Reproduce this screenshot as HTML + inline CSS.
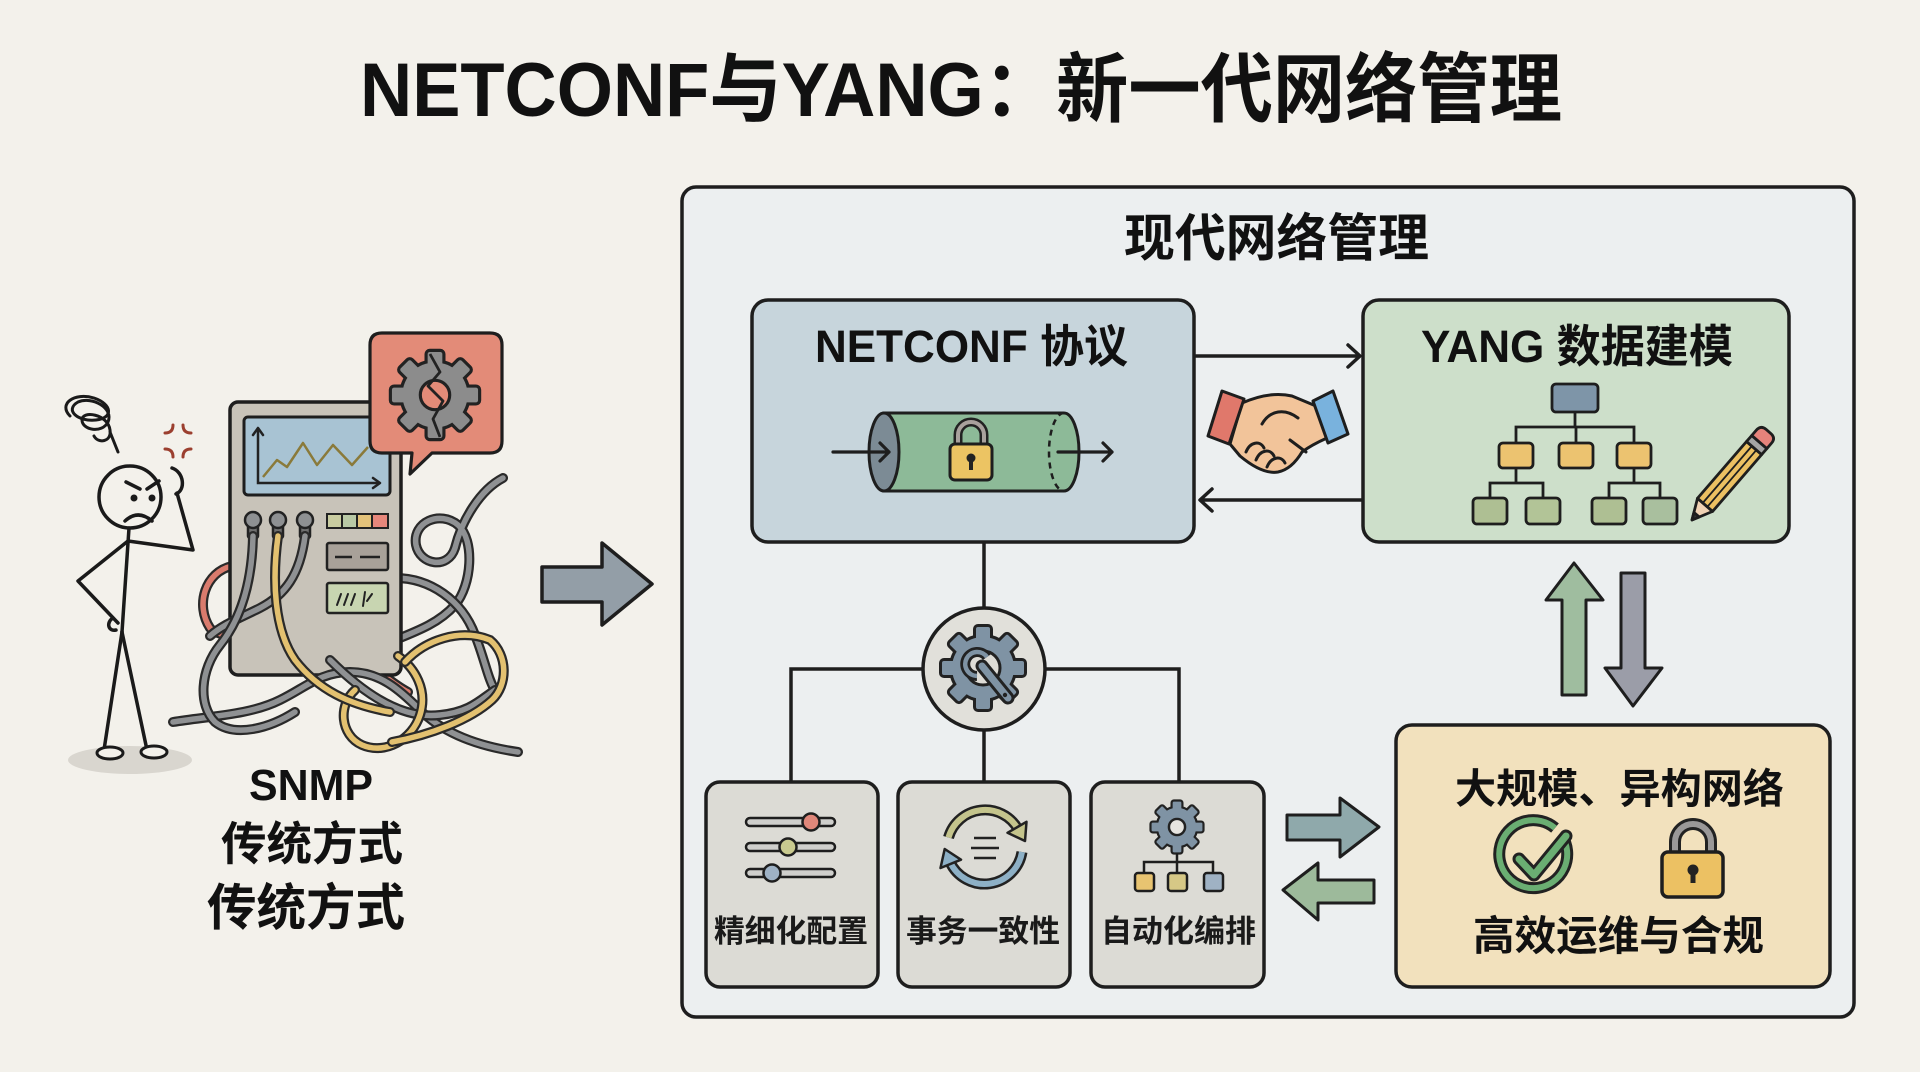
<!DOCTYPE html>
<html><head><meta charset="utf-8"><style>html,body{margin:0;padding:0;background:#f3f1eb;}svg{display:block}</style></head>
<body>
<svg width="1920" height="1072" viewBox="0 0 1920 1072" xmlns="http://www.w3.org/2000/svg" font-family="'Liberation Sans','Noto Sans CJK SC',sans-serif">
<defs>
<g id="gb">
<circle r="31"/>
<rect x="-7" y="-41" width="14" height="16" rx="2"/>
<rect x="-7" y="-41" width="14" height="16" rx="2" transform="rotate(45)"/>
<rect x="-7" y="-41" width="14" height="16" rx="2" transform="rotate(90)"/>
<rect x="-7" y="-41" width="14" height="16" rx="2" transform="rotate(135)"/>
<rect x="-7" y="-41" width="14" height="16" rx="2" transform="rotate(180)"/>
<rect x="-7" y="-41" width="14" height="16" rx="2" transform="rotate(225)"/>
<rect x="-7" y="-41" width="14" height="16" rx="2" transform="rotate(270)"/>
<rect x="-7" y="-41" width="14" height="16" rx="2" transform="rotate(315)"/>
</g>
<path id="c1" d="M503,478 C480,490 462,520 455,548 C448,570 420,565 416,545 C412,522 440,510 458,525 C475,540 472,585 455,605 C440,622 420,630 395,640"/>
<path id="c2" d="M395,578 C430,578 462,600 475,635 C485,660 488,680 496,692"/>
<path id="c3" d="M232,566 C205,572 195,605 210,628 C225,645 290,630 340,648 C370,660 385,680 408,692"/>
<path id="c4" d="M278,536 C272,580 274,630 295,660 C318,690 350,705 390,712"/>
<path id="c5" d="M253,536 C252,585 240,620 220,645 C200,670 198,705 215,722 C235,738 270,728 295,712"/>
<path id="c6" d="M305,536 C300,575 285,595 260,608 C240,618 222,625 210,636"/>
<path id="c7" d="M173,722 C210,716 250,715 280,700 C305,688 320,672 350,672 C380,672 400,690 420,710 C440,730 470,745 518,752"/>
<path id="c8" d="M405,662 C425,640 460,628 490,640 C508,655 508,685 492,700 C470,720 430,735 392,742"/>
<path id="c9" d="M355,690 C338,705 340,735 362,745 C385,755 412,740 420,715 C428,690 415,668 398,656"/>
<path id="c10" d="M330,660 C360,690 400,720 440,715 C470,712 480,700 495,690"/>
</defs>

<rect width="1920" height="1072" fill="#f3f1eb"/>

<!-- Title -->
<text x="360" y="116" font-size="76" font-weight="700" textLength="1202" lengthAdjust="spacingAndGlyphs" fill="#111">NETCONF与YANG：新一代网络管理</text>

<!-- ============ LEFT ILLUSTRATION ============ -->
<ellipse cx="130" cy="760" rx="62" ry="14" fill="#d9d6cf"/>

<g fill="none" stroke-linecap="round">
<use href="#c1" stroke="#2a2a2a" stroke-width="10"/><use href="#c1" stroke="#8f9193" stroke-width="5.5"/>
<use href="#c2" stroke="#2a2a2a" stroke-width="10"/><use href="#c2" stroke="#8f9193" stroke-width="5.5"/>
<use href="#c3" stroke="#2a2a2a" stroke-width="10"/><use href="#c3" stroke="#d97b6d" stroke-width="5.5"/>
</g>

<rect x="230" y="402" width="171" height="273" rx="8" fill="#c8c3b9" stroke="#1e1e1e" stroke-width="3.5"/>
<rect x="244" y="417" width="146" height="78" rx="4" fill="#a8c3d3" stroke="#1e1e1e" stroke-width="3"/>
<path d="M258,429 V483 H380" fill="none" stroke="#222" stroke-width="2.5"/>
<path d="M253,435 L258,428 L263,435 M373,478 L380,483 L373,488" fill="none" stroke="#222" stroke-width="2.5" stroke-linecap="round" stroke-linejoin="round"/>
<polyline points="263,477 277,460 287,467 303,443 317,465 333,445 352,465 368,447" fill="none" stroke="#8a7a3a" stroke-width="2.5" stroke-linejoin="round"/>
<g stroke="#222" stroke-width="2">
<rect x="327" y="514" width="15" height="14" fill="#c9cca0"/>
<rect x="342" y="514" width="15" height="14" fill="#b9c9a5"/>
<rect x="357" y="514" width="15" height="14" fill="#e3c27a"/>
<rect x="372" y="514" width="16" height="14" fill="#e7877b"/>
</g>
<rect x="327" y="543" width="61" height="27" rx="2" fill="#a8a199" stroke="#222" stroke-width="2.5"/>
<path d="M335,557 H352 M360,557 H380" stroke="#222" stroke-width="2.5"/>
<rect x="327" y="583" width="61" height="30" rx="2" fill="#c8d5b1" stroke="#222" stroke-width="2.5"/>
<path d="M337,605 L341,594 M344,605 L348,594 M351,605 L355,594 M363,606 L365,592 M367,601 L372,594" stroke="#222" stroke-width="2" stroke-linecap="round"/>

<g stroke="#222" stroke-width="2.5">
<rect x="248" y="524" width="10" height="14" rx="2" fill="#6f6f6f"/>
<rect x="273" y="524" width="10" height="14" rx="2" fill="#6f6f6f"/>
<rect x="300" y="524" width="10" height="14" rx="2" fill="#6f6f6f"/>
<circle cx="253" cy="520" r="8" fill="#8e9092"/>
<circle cx="278" cy="520" r="8" fill="#8e9092"/>
<circle cx="305" cy="520" r="8" fill="#8e9092"/>
</g>

<g fill="none" stroke-linecap="round">
<use href="#c7" stroke="#2a2a2a" stroke-width="10"/><use href="#c7" stroke="#8f9193" stroke-width="5.5"/>
<use href="#c10" stroke="#2a2a2a" stroke-width="10"/><use href="#c10" stroke="#8f9193" stroke-width="5.5"/>
<use href="#c9" stroke="#2a2a2a" stroke-width="10"/><use href="#c9" stroke="#e3c170" stroke-width="5.5"/>
<use href="#c8" stroke="#2a2a2a" stroke-width="10"/><use href="#c8" stroke="#e3c170" stroke-width="5.5"/>
<use href="#c6" stroke="#2a2a2a" stroke-width="10"/><use href="#c6" stroke="#8f9193" stroke-width="5.5"/>
<use href="#c5" stroke="#2a2a2a" stroke-width="10"/><use href="#c5" stroke="#8f9193" stroke-width="5.5"/>
<use href="#c4" stroke="#2a2a2a" stroke-width="10"/><use href="#c4" stroke="#e3c170" stroke-width="5.5"/>
</g>

<path d="M382,333 H490 Q502,333 502,345 V441 Q502,453 490,453 H432 L410,474 L412,453 H382 Q370,453 370,441 V345 Q370,333 382,333 Z" fill="#e38b78" stroke="#1e1e1e" stroke-width="3.2" stroke-linejoin="round"/>
<g transform="translate(435,395) scale(1.05)">
<use href="#gb" fill="#222" stroke="#222" stroke-width="6" stroke-linejoin="round"/>
<use href="#gb" fill="#8c8c8c"/>
<circle r="14" fill="#e38b78" stroke="#222" stroke-width="3"/>
</g>
<path d="M430,354 L440,372 L428,386 L443,401 L433,419 L440,437" fill="none" stroke="#222" stroke-width="2.8" stroke-linejoin="round"/>

<!-- person -->
<g fill="none" stroke="#1a1a1a" stroke-width="3.5" stroke-linecap="round" stroke-linejoin="round">
<circle cx="130" cy="497" r="31" fill="#f3f1eb"/>
<path d="M126,482 L140,489 M147,489 L159,481"/>
<path d="M125,521 Q138,509 152,521"/>
<path d="M172,468 C184,472 186,490 176,494"/>
<path d="M177,493 L193,550 L128,541"/>
<path d="M129,528 L122,632"/>
<path d="M128,541 L78,581 L118,623"/>
<path d="M113,618 C106,622 108,632 116,630"/>
<path d="M122,632 L104,750"/>
<path d="M122,632 L147,750"/>
</g>
<circle cx="134" cy="498" r="3.5" fill="#1a1a1a"/>
<circle cx="152" cy="498" r="3.5" fill="#1a1a1a"/>
<g fill="none" stroke="#1a1a1a" stroke-width="3" stroke-linecap="round">
<path d="M70,416 C58,404 74,392 94,398 C112,404 114,418 96,420 C78,422 64,410 78,402 C92,396 114,408 108,422 C102,434 82,430 82,420 C82,410 108,414 110,430 C112,442 98,444 94,436 M110,432 L118,452"/>
</g>
<g fill="none" stroke="#9b3f2f" stroke-width="3" stroke-linecap="round">
<path d="M165,433 Q173,433 173,425 M183,425 Q183,433 191,433 M165,449 Q173,449 173,457 M183,457 Q183,449 191,449"/>
</g>
<ellipse cx="110" cy="753" rx="13" ry="6" fill="#f3f1eb" stroke="#1a1a1a" stroke-width="3"/>
<ellipse cx="154" cy="752" rx="13" ry="6" fill="#f3f1eb" stroke="#1a1a1a" stroke-width="3"/>

<!-- left labels -->
<text x="249" y="800" font-size="44" font-weight="700" textLength="124" lengthAdjust="spacingAndGlyphs" fill="#111">SNMP</text>
<text x="221" y="860" font-size="46" font-weight="700" textLength="182" lengthAdjust="spacingAndGlyphs" fill="#111">传统方式</text>
<text x="207" y="925" font-size="50" font-weight="700" textLength="198" lengthAdjust="spacingAndGlyphs" fill="#111">传统方式</text>

<polygon points="542,567 602,567 602,543 652,584 602,625 602,602 542,602" fill="#939ea7" stroke="#1e1e1e" stroke-width="3.5" stroke-linejoin="round"/>

<!-- ============ CONTAINER ============ -->
<rect x="682" y="187" width="1172" height="830" rx="14" fill="#eceff0" stroke="#1e1e1e" stroke-width="3.5"/>
<text x="1124" y="256" font-size="51" font-weight="700" textLength="305" lengthAdjust="spacingAndGlyphs" fill="#111">现代网络管理</text>

<!-- NETCONF box -->
<rect x="752" y="300" width="442" height="242" rx="16" fill="#c7d5dc" stroke="#1e1e1e" stroke-width="3.5"/>
<text x="815" y="362" font-size="45" font-weight="700" textLength="313" lengthAdjust="spacingAndGlyphs" fill="#111">NETCONF 协议</text>
<path d="M884,413 L1064,413 A15,39 0 0 1 1064,491 L884,491 Z" fill="#8dba98" stroke="#1e1e1e" stroke-width="3"/>
<path d="M1064,413 A15,39 0 0 0 1064,491" fill="none" stroke="#1e1e1e" stroke-width="2.5" stroke-dasharray="6,5"/>
<ellipse cx="884" cy="452" rx="15" ry="39" fill="#7c8b95" stroke="#1e1e1e" stroke-width="3"/>
<g fill="none" stroke="#1e1e1e" stroke-width="3.2" stroke-linecap="round" stroke-linejoin="round">
<path d="M833,452 H889 M880,443 L889,452 L880,461"/>
<path d="M1058,452 H1112 M1103,443 L1112,452 L1103,461"/>
</g>
<path d="M958,446 V435 A13,13 0 0 1 984,435 V446" fill="none" stroke="#222" stroke-width="9"/>
<path d="M958,446 V435 A13,13 0 0 1 984,435 V446" fill="none" stroke="#a9a19d" stroke-width="4"/>
<rect x="950" y="444" width="42" height="36" rx="5" fill="#ecc463" stroke="#1e1e1e" stroke-width="3"/>
<circle cx="971" cy="458" r="4.5" fill="#222"/><rect x="969" y="459" width="4" height="11" fill="#222"/>

<g fill="none" stroke="#1e1e1e" stroke-width="3.5" stroke-linecap="round" stroke-linejoin="round">
<path d="M1196,356 H1359 M1348,345 L1360,356 L1348,367"/>
<path d="M1363,500 H1201 M1212,489 L1200,500 L1212,511"/>
</g>

<!-- handshake -->
<g stroke="#1e1e1e" stroke-width="3" stroke-linejoin="round" stroke-linecap="round">
<path d="M1242,403 C1258,396 1275,392 1292,396 L1316,406 L1327,438 C1318,442 1310,446 1302,452 C1296,462 1288,470 1278,472 C1266,474 1252,466 1240,456 L1230,444 Z" fill="#f2c49a"/>
<polygon points="1222,391 1244,399 1229,444 1208,436" fill="#e0786b"/>
<polygon points="1313,401 1333,391 1348,434 1328,443" fill="#79b2dd"/>
<path d="M1262,424 C1270,410 1285,408 1298,418" fill="none"/>
<path d="M1246,452 C1250,442 1260,440 1264,448 M1256,460 C1260,450 1270,448 1274,456 M1267,467 C1271,457 1281,455 1285,463 M1290,440 L1306,452" fill="none"/>
</g>

<!-- YANG box -->
<rect x="1363" y="300" width="426" height="242" rx="16" fill="#cddfca" stroke="#1e1e1e" stroke-width="3.5"/>
<text x="1421" y="362" font-size="45" font-weight="700" textLength="312" lengthAdjust="spacingAndGlyphs" fill="#111">YANG 数据建模</text>
<g fill="none" stroke="#1e1e1e" stroke-width="2.8">
<path d="M1575,412 V427 M1516,443 V427 H1634 V443 M1576,427 V443"/>
<path d="M1516,468 V483 M1490,498 V483 H1543 V498 M1634,468 V483 M1609,498 V483 H1660 V498"/>
</g>
<g stroke="#1e1e1e" stroke-width="2.8">
<rect x="1552" y="384" width="46" height="28" rx="4" fill="#7e95a8"/>
<rect x="1499" y="443" width="34" height="25" rx="4" fill="#ecc370"/>
<rect x="1559" y="443" width="34" height="25" rx="4" fill="#ecc370"/>
<rect x="1617" y="443" width="34" height="25" rx="4" fill="#ecc370"/>
<rect x="1473" y="498" width="34" height="26" rx="4" fill="#aebf93"/>
<rect x="1526" y="498" width="34" height="26" rx="4" fill="#b2c497"/>
<rect x="1592" y="498" width="34" height="26" rx="4" fill="#aebf93"/>
<rect x="1643" y="498" width="34" height="26" rx="4" fill="#a9bf9e"/>
</g>
<g transform="translate(1692,520) rotate(-49.2)" stroke="#1e1e1e" stroke-width="2.8" stroke-linejoin="round">
<polygon points="0,0 20,-10 20,10" fill="#f0d2b4"/>
<polygon points="0,0 7,-3.5 7,3.5" fill="#333"/>
<rect x="20" y="-10" width="75" height="20" fill="#ecc062"/>
<path d="M20,-3 H95 M20,3 H95" fill="none" stroke-width="1.8"/>
<rect x="95" y="-10" width="8" height="20" fill="#a5a5a5"/>
<path d="M103,-10 H110 Q117,-10 117,-3 V3 Q117,10 110,10 H103 Z" fill="#e6837b"/>
</g>

<!-- connectors to hub -->
<g fill="none" stroke="#1e1e1e" stroke-width="3.5">
<path d="M984,542 V608"/>
<path d="M923,669 H791 V782"/>
<path d="M1045,669 H1179 V782"/>
<path d="M984,730 V782"/>
</g>
<circle cx="984" cy="669" r="61" fill="#e1e0da" stroke="#1e1e1e" stroke-width="3.5"/>
<g transform="translate(983,668)">
<use href="#gb" fill="#222" stroke="#222" stroke-width="6" stroke-linejoin="round"/>
<use href="#gb" fill="#7f93a4"/>
<circle r="17" fill="#dedcd6" stroke="#222" stroke-width="3"/>
</g>
<path d="M982,666 L1008,698" stroke="#222" stroke-width="13" stroke-linecap="round"/>
<path d="M982,666 L1008,698" stroke="#7f93a4" stroke-width="7" stroke-linecap="round"/>
<path d="M987,657 A12,12 0 1 0 977,676" fill="none" stroke="#222" stroke-width="10"/>
<path d="M987,657 A12,12 0 1 0 977,676" fill="none" stroke="#7f93a4" stroke-width="4.5"/>
<circle cx="1005" cy="695" r="2.2" fill="#222"/>

<!-- three gray boxes -->
<g fill="#dcdbd5" stroke="#1e1e1e" stroke-width="3.5">
<rect x="706" y="782" width="172" height="205" rx="14"/>
<rect x="898" y="782" width="172" height="205" rx="14"/>
<rect x="1091" y="782" width="173" height="205" rx="14"/>
</g>
<g stroke="#1e1e1e" stroke-width="2.5">
<rect x="746" y="818" width="89" height="8" rx="4" fill="#cfcfcc"/>
<rect x="746" y="843" width="89" height="8" rx="4" fill="#cfcfcc"/>
<rect x="746" y="869" width="89" height="8" rx="4" fill="#cfcfcc"/>
<circle cx="811" cy="822" r="8.5" fill="#e0877a"/>
<circle cx="788" cy="847" r="8.5" fill="#c9ca8f"/>
<circle cx="772" cy="873" r="8.5" fill="#9fb2c5"/>
</g>
<g fill="none" stroke-linecap="butt">
<path d="M948.5,837.5 A38,38 0 0 1 1018,829" stroke="#222" stroke-width="11"/>
<path d="M948.5,837.5 A38,38 0 0 1 1018,829" stroke="#c4c48c" stroke-width="6"/>
<path d="M1022,852 A38,38 0 0 1 950,862" stroke="#222" stroke-width="11"/>
<path d="M1022,852 A38,38 0 0 1 950,862" stroke="#8db0c6" stroke-width="6"/>
</g>
<polygon points="1025,841 1026.5,821.8 1007.5,832.8" fill="#c4c48c" stroke="#222" stroke-width="2.5" stroke-linejoin="round"/>
<polygon points="944.7,849 961,859.7 940.5,868" fill="#8db0c6" stroke="#222" stroke-width="2.5" stroke-linejoin="round"/>
<path d="M974,838 H996 M971,848 H999 M974,858 H996" stroke="#222" stroke-width="2.5"/>
<g transform="translate(1177,827) scale(0.62)">
<use href="#gb" fill="#222" stroke="#222" stroke-width="7" stroke-linejoin="round"/>
<use href="#gb" fill="#7f93a4"/>
<circle r="13" fill="#e7e5e0" stroke="#222" stroke-width="4"/>
</g>
<path d="M1177,853 V862 M1144,873 V862 H1213 V873 M1177,862 V873" fill="none" stroke="#1e1e1e" stroke-width="2.5"/>
<g stroke="#1e1e1e" stroke-width="2.5">
<rect x="1135" y="873" width="19" height="18" rx="3" fill="#e8c471"/>
<rect x="1168" y="873" width="19" height="18" rx="3" fill="#d6c886"/>
<rect x="1204" y="873" width="19" height="18" rx="3" fill="#9fb2c4"/>
</g>
<g font-size="31" font-weight="700" fill="#1a1a1a">
<text x="714" y="942" textLength="154" lengthAdjust="spacingAndGlyphs">精细化配置</text>
<text x="906" y="942" textLength="154" lengthAdjust="spacingAndGlyphs">事务一致性</text>
<text x="1101" y="942" textLength="155" lengthAdjust="spacingAndGlyphs">自动化编排</text>
</g>

<!-- vertical arrows -->
<polygon points="1574,563 1603,600 1586,600 1586,695 1562,695 1562,600 1546,600" fill="#9fbd9f" stroke="#1e1e1e" stroke-width="3" stroke-linejoin="round"/>
<polygon points="1621,573 1645,573 1645,668 1662,668 1633,706 1605,668 1621,668" fill="#9b9da8" stroke="#1e1e1e" stroke-width="3" stroke-linejoin="round"/>
<polygon points="1287,815 1340,815 1340,798 1379,827 1340,857 1340,840 1287,840" fill="#8fa9ab" stroke="#1e1e1e" stroke-width="3" stroke-linejoin="round"/>
<polygon points="1283,890 1318,863 1318,880 1374,880 1374,903 1318,903 1318,920" fill="#9dba9b" stroke="#1e1e1e" stroke-width="3" stroke-linejoin="round"/>

<!-- orange box -->
<rect x="1396" y="725" width="434" height="262" rx="16" fill="#f2e1bd" stroke="#1e1e1e" stroke-width="3.5"/>
<text x="1455" y="803" font-size="41" font-weight="700" textLength="329" lengthAdjust="spacingAndGlyphs" fill="#111">大规模、异构网络</text>
<text x="1473" y="950" font-size="41" font-weight="700" textLength="291" lengthAdjust="spacingAndGlyphs" fill="#111">高效运维与合规</text>
<path d="M1562,836 A34,34 0 1 1 1555,828" fill="none" stroke="#222" stroke-width="12"/>
<path d="M1562,836 A34,34 0 1 1 1555,828" fill="none" stroke="#6aae72" stroke-width="6"/>
<polyline points="1519,859 1534,875 1566,836" fill="none" stroke="#222" stroke-width="13" stroke-linecap="round" stroke-linejoin="round"/>
<polyline points="1519,859 1534,875 1566,836" fill="none" stroke="#6aae72" stroke-width="7" stroke-linecap="round" stroke-linejoin="round"/>
<path d="M1675,856 V842 A18,18 0 0 1 1711,842 V856" fill="none" stroke="#222" stroke-width="12"/>
<path d="M1675,856 V842 A18,18 0 0 1 1711,842 V856" fill="none" stroke="#9a9898" stroke-width="6"/>
<rect x="1662" y="852" width="61" height="45" rx="6" fill="#ecc163" stroke="#1e1e1e" stroke-width="3.5"/>
<circle cx="1693" cy="870" r="5.5" fill="#222"/><rect x="1690.5" y="871" width="5" height="12" fill="#222"/>
</svg>
</body></html>
